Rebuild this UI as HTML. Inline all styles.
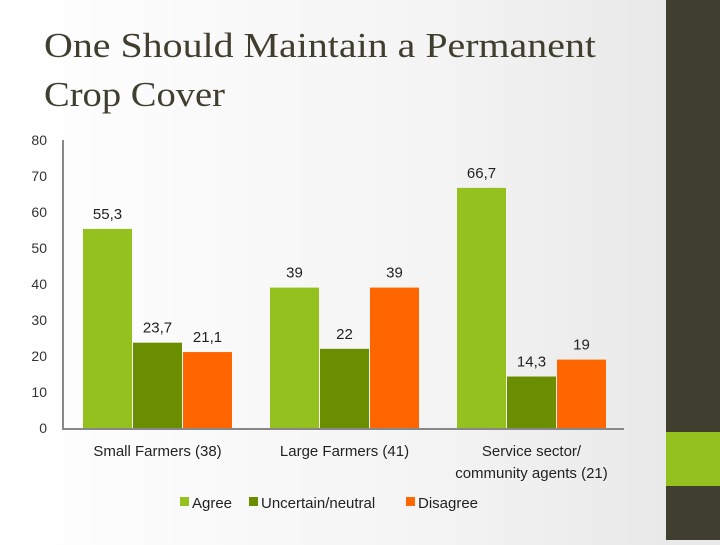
<!DOCTYPE html>
<html><head><meta charset="utf-8"><style>
html,body{margin:0;padding:0;}
body{width:720px;height:540px;overflow:hidden;background:linear-gradient(to right,#ffffff 0%,#f4f4f4 60%,#e9e9e9 92%);font-family:"Liberation Sans",sans-serif;}
</style></head><body>
<svg width="720" height="540" viewBox="0 0 720 540" xmlns="http://www.w3.org/2000/svg">
<rect x="666" y="0" width="54" height="540" fill="#3f3e2f"/>
<rect x="666" y="432" width="54" height="54" fill="#95c11f"/>
<text x="44" y="57" font-size="35" fill="#3f3e2f" textLength="552" lengthAdjust="spacingAndGlyphs" font-family="Liberation Serif, serif">One Should Maintain a Permanent</text>
<text x="44" y="106" font-size="35" fill="#3f3e2f" textLength="181" lengthAdjust="spacingAndGlyphs" font-family="Liberation Serif, serif">Crop Cover</text>
<g id="plot"></g>
</svg>
<script>
const categories = [["Small Farmers (38)"],["Large Farmers (41)"],["Service sector/","community agents (21)"]];
const seriesNames = ["Agree","Uncertain/neutral","Disagree"];
const agree = [55.3, 39, 66.7];
const uncertain = [23.7, 22, 14.3];
const disagree = [21.1, 39, 19];
const valueLabels = [["55,3","39","66,7"],["23,7","22","14,3"],["21,1","39","19"]];
const yTicks = [0,10,20,30,40,50,60,70,80];

const colors = ["#95c11f","#6b8e00","#ff6600"];
const series = [agree, uncertain, disagree];
const NS = "http://www.w3.org/2000/svg";
const g = document.getElementById("plot");
const y0 = 428, pxPer = 3.6;
const yScale = v => y0 - v * pxPer;
const groupStart = i => 83 + i * 187;
const barW = 49, barStep = 50;
function mk(tag, attrs, text){const e=document.createElementNS(NS,tag);for(const k in attrs)e.setAttribute(k,attrs[k]);if(text!==undefined)e.textContent=text;g.appendChild(e);return e;}

yTicks.forEach(t=>{
  const e = mk("text",{x:47,y:yScale(t)+5,"font-size":14,fill:"#333","text-anchor":"end"},String(t));
  
  
});
const ax = mk("line",{x1:63,y1:140,x2:63,y2:y0+1,stroke:"#888","stroke-width":2});


const bx = mk("line",{x1:62,y1:y0+1,x2:624,y2:y0+1,stroke:"#888","stroke-width":2});



series.forEach((vals,s)=>{
  vals.forEach((v,i)=>{
    const x = groupStart(i) + s*barStep;
    const r = mk("rect",{x:x,y:yScale(v),width:barW,height:y0-yScale(v),fill:colors[s]});
    
    
    const l = mk("text",{x:x+barW/2,y:yScale(v)-10,"font-size":15,fill:"#222","text-anchor":"middle"},valueLabels[s][i]);
    
    
  });
});
categories.forEach((lines,i)=>{
  const cx = groupStart(i) + barStep*1.5 - 0.5;
  lines.forEach((ln,j)=>{
    const t = mk("text",{x:cx,y:456+j*22,"font-size":15,fill:"#222","text-anchor":"middle"},ln);
    
    
  });
});
const legX = [180,249,406];
seriesNames.forEach((n,s)=>{
  const r = mk("rect",{x:legX[s],y:497,width:9,height:9,fill:colors[s]});
  
  
  const t = mk("text",{x:legX[s]+12,y:508,"font-size":15,fill:"#222"},n);
  
  
});
</script>
</body></html>
